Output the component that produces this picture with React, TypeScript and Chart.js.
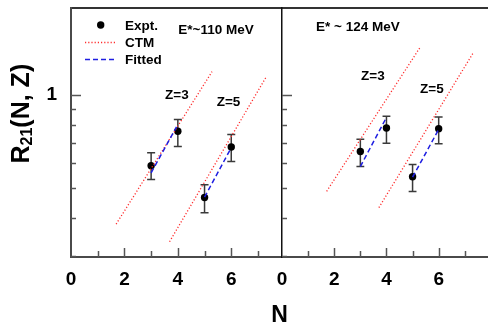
import React, { useEffect, useRef } from "react";
import { Chart, registerables } from "chart.js";

Chart.register(...registerables);

const FONT = '"Liberation Sans", Arial, Helvetica, sans-serif';

// ---- axes ----
const yMin = 0.298;
const yMax = 1.917;
const yTickValues = [0.3, 0.4, 0.5, 0.6, 0.7, 0.8, 0.9, 1];
const xTickValues = [0, 1, 2, 3, 4, 5, 6, 7];
const xMaxLeft = 7.9;
const xMaxRight = 7.85;

// ---- experimental points (N = 3,4 for Z=3 ; N = 5,6 for Z=5) ----
const exptN = [3, 4, 5, 6];

// E* ~ 110 MeV
const expt110 = [0.59, 0.763, 0.465, 0.678];
const expt110Lo = [0.532, 0.681, 0.415, 0.609];
const expt110Hi = [0.65, 0.833, 0.511, 0.744];
const ctm110Z3N = [1.69, 5.28];
const ctm110Z3 = [0.381, 1.191];
const ctm110Z5N = [3.69, 7.3];
const ctm110Z5 = [0.334, 1.142];
const fit110Z3N = [3, 3.95];
const fit110Z3 = [0.559, 0.788];
const fit110Z5N = [5, 5.96];
const fit110Z5 = [0.466, 0.665];

// E* ~ 124 MeV
const expt124 = [0.656, 0.782, 0.543, 0.778];
const expt124Lo = [0.586, 0.698, 0.486, 0.695];
const expt124Hi = [0.718, 0.854, 0.595, 0.849];
const ctm124Z3N = [1.71, 5.31];
const ctm124Z3 = [0.487, 1.438];
const ctm124Z5N = [3.71, 7.34];
const ctm124Z5 = [0.431, 1.379];
const fit124Z3N = [3, 4];
const fit124Z3 = [0.586, 0.846];
const fit124Z5N = [5, 5.98];
const fit124Z5 = [0.541, 0.768];

// ---- styles ----
const RED = "rgb(255,45,45)";
const BLUE = "rgb(30,30,225)";
const AXIS = "#4a4a4a";
const TICKC = "#555";
const ERRC = "#3a3a3a";
const CAP = 0.15;
const TXT = `bold 13.5px ${FONT}`;

const zip = (xs: number[], ys: number[]) => xs.map((x, i) => ({ x, y: ys[i] }));

function errorBars(ns: number[], lo: number[], hi: number[]) {
  const pts: { x: number; y: number | null }[] = [];
  ns.forEach((n, i) => {
    pts.push({ x: n, y: lo[i] }, { x: n, y: hi[i] }, { x: n, y: null });
    pts.push({ x: n - CAP, y: hi[i] }, { x: n + CAP, y: hi[i] }, { x: n, y: null });
    pts.push({ x: n - CAP, y: lo[i] }, { x: n + CAP, y: lo[i] }, { x: n, y: null });
  });
  return pts;
}

type Label = { t: string; x: number; y: number; font?: string; align?: CanvasTextAlign };

function innerTicksPlugin() {
  return {
    id: "innerTicks",
    afterDatasetsDraw(chart: any) {
      const { ctx, chartArea } = chart;
      const ys = chart.scales.y;
      const xs = chart.scales.x;
      ctx.save();
      ctx.strokeStyle = TICKC;
      ctx.lineWidth = 1.5;
      ys.ticks.forEach((t: any) => {
        const py = Math.round(ys.getPixelForValue(t.value)) + 0.5;
        const len = t.value === 1 ? 10 : 5;
        ctx.beginPath();
        ctx.moveTo(chartArea.left, py);
        ctx.lineTo(chartArea.left + len, py);
        ctx.stroke();
      });
      xs.ticks.forEach((t: any) => {
        if (t.value === 0) return;
        const px = Math.round(xs.getPixelForValue(t.value)) + 0.5;
        const len = t.value % 2 === 0 ? 9 : 6;
        ctx.beginPath();
        ctx.moveTo(px, chartArea.bottom);
        ctx.lineTo(px, chartArea.bottom - len);
        ctx.stroke();
      });
      ctx.restore();
    },
  };
}

function textPlugin(labels: Label[], extra?: (ctx: CanvasRenderingContext2D) => void) {
  return {
    id: "texts",
    afterDraw(chart: any) {
      const ctx: CanvasRenderingContext2D = chart.ctx;
      ctx.save();
      ctx.fillStyle = "#000";
      ctx.textBaseline = "alphabetic";
      labels.forEach((l) => {
        ctx.font = l.font || TXT;
        ctx.textAlign = l.align || "left";
        ctx.fillText(l.t, l.x, l.y);
      });
      if (extra) extra(ctx);
      ctx.restore();
    },
  };
}

function drawLeftExtras(ctx: CanvasRenderingContext2D) {
  // y axis title R21(N, Z)
  ctx.save();
  ctx.translate(28.5, 163.5);
  ctx.rotate(-Math.PI / 2);
  ctx.textAlign = "left";
  ctx.font = `bold 25px ${FONT}`;
  ctx.fillText("R", 0, 0);
  let w = ctx.measureText("R").width;
  ctx.font = `bold 16px ${FONT}`;
  ctx.fillText("21", w, 3.5);
  w += ctx.measureText("21").width;
  ctx.font = `bold 25px ${FONT}`;
  ctx.fillText("(N, Z)", w, 0);
  ctx.restore();

  // legend
  ctx.save();
  ctx.fillStyle = "#000";
  ctx.beginPath();
  ctx.arc(100.7, 25, 3.7, 0, Math.PI * 2);
  ctx.fill();
  ctx.lineWidth = 1.3;
  ctx.strokeStyle = RED;
  ctx.setLineDash([1.2, 2]);
  ctx.beginPath();
  ctx.moveTo(85, 42.5);
  ctx.lineTo(117, 42.5);
  ctx.stroke();
  ctx.strokeStyle = BLUE;
  ctx.lineWidth = 1.5;
  ctx.setLineDash([5, 3]);
  ctx.beginPath();
  ctx.moveTo(85, 59.5);
  ctx.lineTo(117, 59.5);
  ctx.stroke();
  ctx.restore();
}

type Panel = {
  expt: number[];
  lo: number[];
  hi: number[];
  ctmZ3N: number[];
  ctmZ3: number[];
  ctmZ5N: number[];
  ctmZ5: number[];
  fitZ3N: number[];
  fitZ3: number[];
  fitZ5N: number[];
  fitZ5: number[];
  xMax: number;
  yWidth: number;
  padRight: number;
  showYLabels: boolean;
  yBorder: string;
  yBorderWidth: number;
  labels: Label[];
  extra?: (ctx: CanvasRenderingContext2D) => void;
};

function makeChart(canvas: HTMLCanvasElement, p: Panel) {
  const lineDs = (data: any[], color: string, dash: number[], width: number) => ({
    data,
    showLine: true,
    borderColor: color,
    borderDash: dash,
    borderWidth: width,
    pointRadius: 0,
    pointHoverRadius: 0,
    fill: false,
    spanGaps: false,
  });
  const tickFont = { family: FONT, size: 19, weight: "bold" as const };
  const noPad = (s: any) => {
    s.paddingTop = 0;
    s.paddingBottom = 0;
    s.paddingLeft = 0;
    s.paddingRight = 0;
  };
  return new Chart(canvas, {
    type: "scatter",
    data: {
      datasets: [
        lineDs(zip(p.fitZ3N, p.fitZ3), BLUE, [5, 3], 1.5),
        lineDs(zip(p.fitZ5N, p.fitZ5), BLUE, [5, 3], 1.5),
        lineDs(zip(p.ctmZ3N, p.ctmZ3), RED, [1.2, 2], 1.3),
        lineDs(zip(p.ctmZ5N, p.ctmZ5), RED, [1.2, 2], 1.3),
        {
          data: zip(exptN, p.expt),
          showLine: false,
          pointRadius: 3.7,
          pointBackgroundColor: "#000",
          pointBorderWidth: 0,
          pointBorderColor: "#000",
        },
        lineDs(errorBars(exptN, p.lo, p.hi), ERRC, [], 1.5),
      ] as any,
    },
    options: {
      animation: false,
      responsive: false,
      events: [],
      layout: { padding: { left: 0, right: p.padRight, top: 0, bottom: 0 } },
      plugins: { legend: { display: false }, tooltip: { enabled: false } },
      scales: {
        x: {
          type: "linear",
          position: "bottom",
          min: 0,
          max: p.xMax,
          afterBuildTicks: (s: any) => {
            s.ticks = xTickValues.map((v) => ({ value: v }));
          },
          afterFit: (s: any) => {
            s.height = 70;
            noPad(s);
          },
          grid: { display: true, drawOnChartArea: false, drawTicks: false },
          border: { display: true, color: AXIS, width: 2 },
          ticks: {
            autoSkip: false,
            maxRotation: 0,
            padding: 11,
            color: "#000",
            font: tickFont,
            callback: (v: any) => (Number(v) % 2 === 0 ? String(v) : ""),
          },
        },
        xTop: {
          type: "linear",
          position: "top",
          min: 0,
          max: p.xMax,
          afterFit: (s: any) => {
            s.height = 8;
            noPad(s);
          },
          grid: { display: true, drawOnChartArea: false, drawTicks: false },
          border: { display: true, color: "#333", width: 2 },
          ticks: { display: false },
        },
        y: {
          type: "logarithmic",
          position: "left",
          min: yMin,
          max: yMax,
          afterBuildTicks: (s: any) => {
            s.ticks = yTickValues.map((v) => ({ value: v }));
          },
          afterFit: (s: any) => {
            s.width = p.yWidth;
            noPad(s);
          },
          grid: { display: true, drawOnChartArea: false, drawTicks: false },
          border: { display: true, color: p.yBorder, width: p.yBorderWidth },
          ticks: {
            display: p.showYLabels,
            autoSkip: false,
            padding: 14,
            color: "#000",
            font: tickFont,
            callback: (v: any) => (Number(v) === 1 ? "1" : ""),
          },
        },
      } as any,
    },
    plugins: [innerTicksPlugin(), textPlugin(p.labels, p.extra)] as any,
  });
}

export default function App() {
  const leftRef = useRef<HTMLCanvasElement>(null);
  const rightRef = useRef<HTMLCanvasElement>(null);

  useEffect(() => {
    const left = makeChart(leftRef.current!, {
      expt: expt110,
      lo: expt110Lo,
      hi: expt110Hi,
      ctmZ3N: ctm110Z3N,
      ctmZ3: ctm110Z3,
      ctmZ5N: ctm110Z5N,
      ctmZ5: ctm110Z5,
      fitZ3N: fit110Z3N,
      fitZ3: fit110Z3,
      fitZ5N: fit110Z5N,
      fitZ5: fit110Z5,
      xMax: xMaxLeft,
      yWidth: 71,
      padRight: 209,
      showYLabels: true,
      yBorder: AXIS,
      yBorderWidth: 2,
      labels: [
        { t: "Expt.", x: 125, y: 29.5 },
        { t: "CTM", x: 125, y: 46.8 },
        { t: "Fitted", x: 125, y: 63.6 },
        { t: "E*~110 MeV", x: 178.3, y: 34.3 },
        { t: "Z=3", x: 165, y: 98.7 },
        { t: "Z=5", x: 216.7, y: 106 },
        { t: "N", x: 279.5, y: 321.7, font: `bold 23px ${FONT}`, align: "center" },
      ],
      extra: drawLeftExtras,
    });
    const right = makeChart(rightRef.current!, {
      expt: expt124,
      lo: expt124Lo,
      hi: expt124Hi,
      ctmZ3N: ctm124Z3N,
      ctmZ3: ctm124Z3,
      ctmZ5N: ctm124Z5N,
      ctmZ5: ctm124Z5,
      fitZ3N: fit124Z3N,
      fitZ3: fit124Z3,
      fitZ5N: fit124Z5N,
      fitZ5: fit124Z5,
      xMax: xMaxRight,
      yWidth: 282,
      padRight: 0,
      showYLabels: false,
      yBorder: "#111",
      yBorderWidth: 1.5,
      labels: [
        { t: "E* ~ 124 MeV", x: 316, y: 30.7 },
        { t: "Z=3", x: 361, y: 80 },
        { t: "Z=5", x: 420, y: 93.3 },
      ],
    });
    return () => {
      left.destroy();
      right.destroy();
    };
  }, []);

  const cstyle: React.CSSProperties = {
    position: "absolute",
    left: 0,
    top: 0,
    width: 491,
    height: 327,
  };

  return (
    <div style={{ position: "fixed", left: 0, top: 0, width: 491, height: 327, background: "#fff" }}>
      <canvas ref={leftRef} width={491} height={327} style={cstyle} />
      <canvas ref={rightRef} width={491} height={327} style={cstyle} />
    </div>
  );
}
